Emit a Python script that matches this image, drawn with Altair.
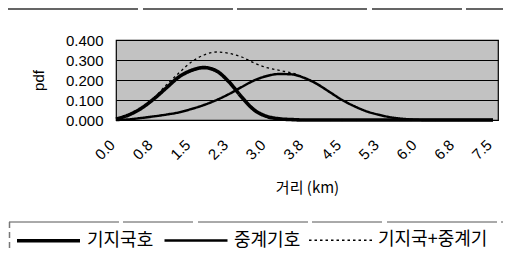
import altair as alt
import pandas as pd

km = [0, 0.25, 0.5, 0.75, 1.0, 1.25, 1.5, 1.75, 2.0, 2.25, 2.5, 2.75, 3.0, 3.25, 3.5,
      3.75, 4.0, 4.25, 4.5, 4.75, 5.0, 5.25, 5.5, 5.75, 6.0, 6.25, 6.5, 6.75, 7.0, 7.25, 7.5]
base = [0.005, 0.025, 0.058, 0.105, 0.16, 0.215, 0.248, 0.262, 0.245, 0.19, 0.115, 0.05,
        0.018, 0.006, 0.002, 0, 0, 0, 0, 0, 0, 0, 0, 0, 0, 0, 0, 0, 0, 0, 0]
relay = [0, 0.003, 0.01, 0.018, 0.027, 0.038, 0.055, 0.075, 0.1, 0.13, 0.165, 0.198, 0.22,
         0.23, 0.228, 0.21, 0.18, 0.14, 0.1, 0.068, 0.042, 0.025, 0.012, 0.005, 0.001,
         0, 0, 0, 0, 0, 0]
combined = [0.005, 0.025, 0.06, 0.11, 0.175, 0.235, 0.29, 0.325, 0.34, 0.333, 0.315, 0.285,
            0.262, 0.248, 0.235, 0.212, 0.18, 0.14, 0.1, 0.068, 0.042, 0.025, 0.012, 0.005,
            0.001, 0, 0, 0, 0, 0, 0]
series = ["기지국호", "중계기호", "기지국+중계기"]
x_ticks = [0, 0.75, 1.5, 2.25, 3.0, 3.75, 4.5, 5.25, 6.0, 6.75, 7.5]
y_ticks = [0, 0.1, 0.2, 0.3, 0.4]

rows = []
for name, vals in zip(series, [base, relay, combined]):
    for k, v in zip(km, vals):
        rows.append({"km": k, "pdf": v, "series": name})
df = pd.DataFrame(rows)

lines = alt.Chart(df).mark_line(color="black", interpolate="monotone").encode(
    x=alt.X("km:Q", scale=alt.Scale(domain=[0, 7.6], nice=False, zero=False),
            axis=alt.Axis(values=x_ticks, format=".1f", labelAngle=-45, grid=False,
                          ticks=False, domain=False, labelPadding=17, labelOffset=-9,
                          labelFont="Liberation Sans", labelFontSize=15,
                          labelColor="black", title="거리 (km)",
                          titleFont="Noto Sans CJK KR", titleFontSize=15,
                          titleFontWeight="normal", titleColor="black", titlePadding=18)),
    y=alt.Y("pdf:Q", scale=alt.Scale(domain=[0, 0.4], nice=False),
            axis=alt.Axis(values=y_ticks, format=".3f", grid=True, gridColor="black",
                          gridWidth=1, gridOpacity=1, ticks=False, domain=False,
                          labelPadding=13, labelFont="Liberation Sans", labelFontSize=15,
                          labelColor="black", title="pdf", titleFont="Liberation Sans",
                          titleFontSize=15, titleFontWeight="normal", titleColor="black",
                          titlePadding=19)),
    strokeWidth=alt.StrokeWidth("series:N",
                                scale=alt.Scale(domain=series, range=[3.6, 1.3, 2.6]),
                                legend=alt.Legend(title=None)),
    strokeDash=alt.StrokeDash("series:N",
                              scale=alt.Scale(domain=series, range=[[1, 0], [1, 0], [2.5, 3]]),
                              legend=alt.Legend(title=None)),
)

frame = pd.DataFrame({"a": [0]})
top_rule = alt.Chart(frame).mark_rule(color="#333", strokeWidth=1.3, strokeDash=[130, 5, 90, 4]).encode(
    x=alt.value(-108), x2=alt.value(395), y=alt.value(-31), y2=alt.value(-31))
box_top = alt.Chart(frame).mark_rule(color="#555", strokeWidth=1, strokeDash=[110, 4, 70, 5]).encode(
    x=alt.value(-107), x2=alt.value(395), y=alt.value(182), y2=alt.value(182))
box_left = alt.Chart(frame).mark_rule(color="#777", strokeWidth=1.5, strokeDash=[6, 4]).encode(
    x=alt.value(-106.5), x2=alt.value(-106.5), y=alt.value(182), y2=alt.value(217))

chart = alt.layer(lines, top_rule, box_top, box_left).properties(
    width=382, height=80,
    autosize=alt.AutoSizeParams(type="none"),
    padding={"left": 108, "top": 32, "right": 5, "bottom": 130},
).configure_view(
    fill="#c2c2c2", stroke="black", strokeWidth=1.2
).configure_legend(
    orient="none", legendX=-101, legendY=167, direction="horizontal",
    symbolType="stroke", symbolSize=3969, symbolStrokeColor="black",
    labelFont="Noto Sans CJK KR", labelFontSize=18, labelColor="black",
    labelOffset=5, columnPadding=5, padding=0,
)

chart.save("out.html", embed_options={"renderer": "svg", "actions": False})
